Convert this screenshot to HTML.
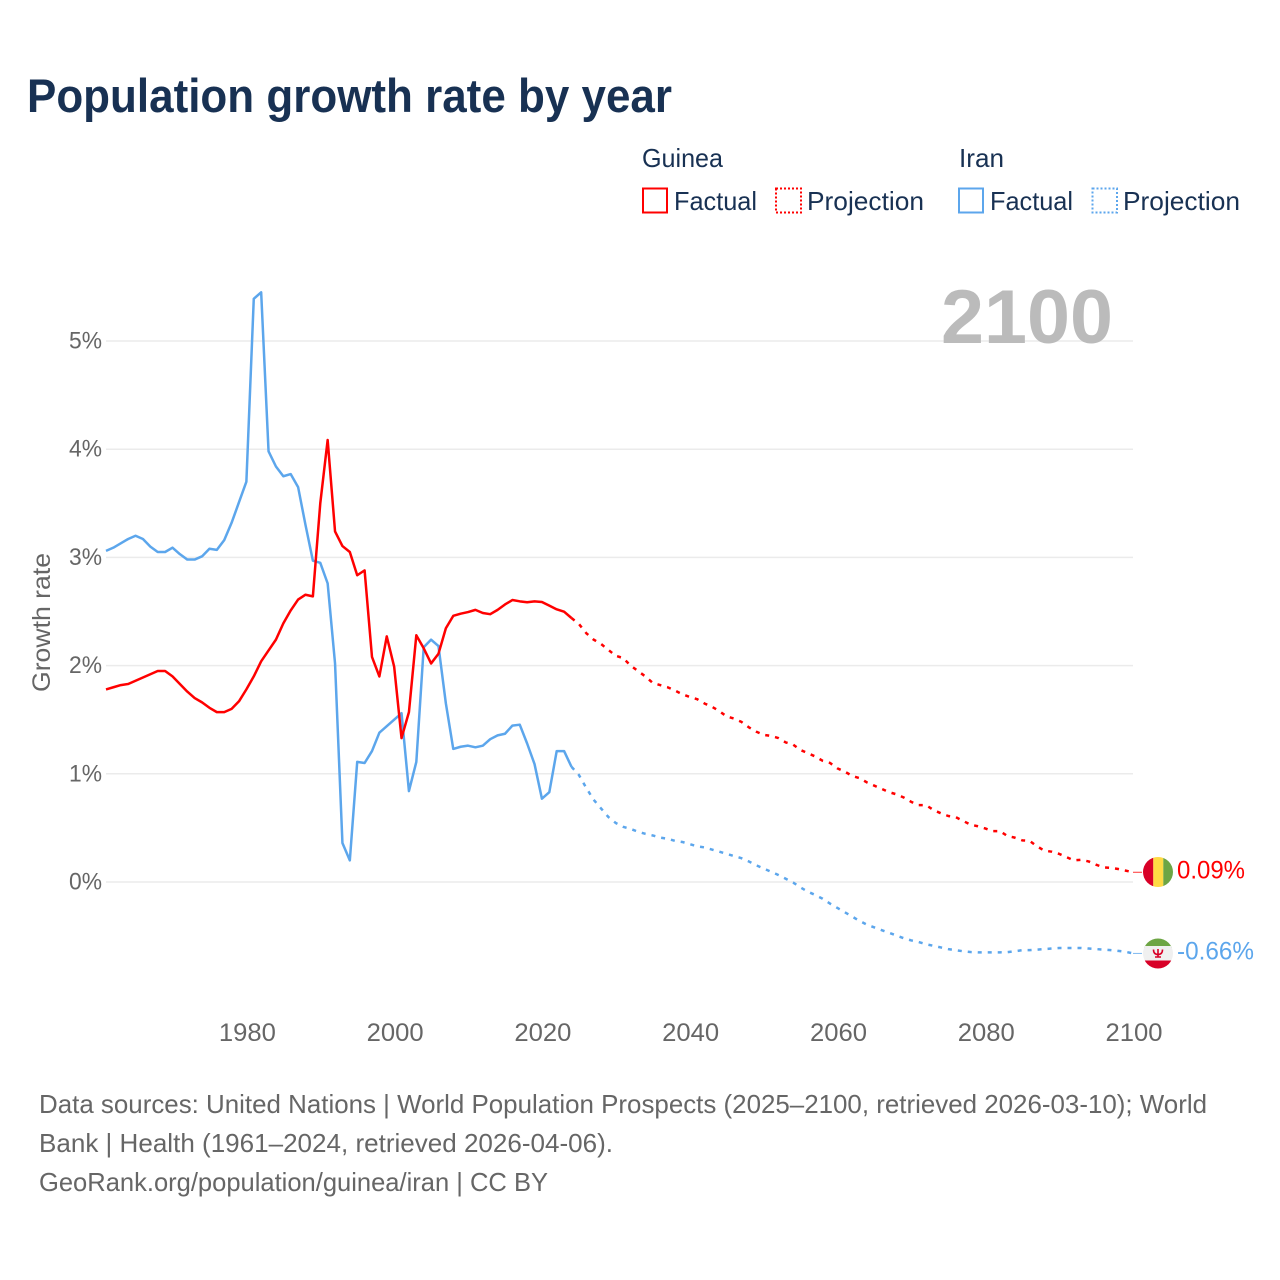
<!DOCTYPE html>
<html lang="en">
<head>
<meta charset="utf-8">
<title>Population growth rate by year</title>
<style>
html,body{margin:0;padding:0;background:#fff;width:1280px;height:1280px;overflow:hidden}
svg{display:block}
text{font-family:"Liberation Sans",sans-serif}
</style>
</head>
<body>
<svg id="chart" xmlns="http://www.w3.org/2000/svg" width="1280" height="1280" viewBox="0 0 1280 1280">
  <rect width="1280" height="1280" fill="#fff"/>
  <text x="27" y="112" font-size="47" font-weight="700" fill="#183153" textLength="645" lengthAdjust="spacingAndGlyphs">Population growth rate by year</text>

  <g font-size="26" fill="#183153">
    <text x="642" y="167" textLength="81" lengthAdjust="spacingAndGlyphs">Guinea</text>
    <text x="959" y="167" textLength="45" lengthAdjust="spacingAndGlyphs">Iran</text>
    <rect x="643" y="188.5" width="24" height="24" fill="none" stroke="#ff0000" stroke-width="2"/>
    <text x="674" y="210" textLength="83" lengthAdjust="spacingAndGlyphs">Factual</text>
    <rect x="776" y="188.5" width="25" height="24" fill="none" stroke="#ff0000" stroke-width="2" stroke-dasharray="2 2"/>
    <text x="807" y="210" textLength="117" lengthAdjust="spacingAndGlyphs">Projection</text>
    <rect x="959" y="188.5" width="24" height="24" fill="none" stroke="#5ca6ec" stroke-width="2"/>
    <text x="990" y="210" textLength="83" lengthAdjust="spacingAndGlyphs">Factual</text>
    <rect x="1092.500" y="188.5" width="24.500" height="24" fill="none" stroke="#5ca6ec" stroke-width="2" stroke-dasharray="2 2"/>
    <text x="1123" y="210" textLength="117" lengthAdjust="spacingAndGlyphs">Projection</text>
  </g>

  <g id="grid"></g>
  <g id="yticks"></g>
  <g id="xticks"></g>
  <text transform="translate(50,622.5) rotate(-90)" text-anchor="middle" font-size="25" fill="#666" textLength="139" lengthAdjust="spacingAndGlyphs">Growth rate</text>
  <text x="941" y="343" font-size="76" font-weight="700" fill="#bbbbbb" textLength="172" lengthAdjust="spacingAndGlyphs">2100</text>

  <g id="series"></g>

  <g>
    <clipPath id="clipGuinea"><circle cx="1158" cy="872" r="15"/></clipPath>
    <g clip-path="url(#clipGuinea)">
      <rect x="1143" y="857" width="10.300" height="30" fill="#d80027"/>
      <rect x="1153.300" y="857" width="10" height="30" fill="#ffda44"/>
      <rect x="1163.300" y="857" width="10" height="30" fill="#6da544"/>
    </g>
  </g>
  <g>
    <clipPath id="clipIran"><circle cx="1158" cy="953.500" r="15"/></clipPath>
    <g clip-path="url(#clipIran)">
      <rect x="1143" y="938" width="30" height="10" fill="#6da544"/>
      <rect x="1143" y="946" width="30" height="15" fill="#f0f0f0"/>
      <rect x="1143" y="960.500" width="30" height="10" fill="#d80027"/>
      <path d="M1153.500 949.500c0 3.500 1.500 5 4.500 5s4.500-1.500 4.500-5M1158 949v8M1155 957h6" fill="none" stroke="#d80027" stroke-width="1.600"/>
    </g>
  </g>

  <g font-size="26" fill="#666">
    <text x="39" y="1113" textLength="1168" lengthAdjust="spacingAndGlyphs">Data sources: United Nations | World Population Prospects (2025–2100, retrieved 2026-03-10); World</text>
    <text x="39" y="1152" textLength="574" lengthAdjust="spacingAndGlyphs">Bank | Health (1961–2024, retrieved 2026-04-06).</text>
    <text x="39" y="1191" textLength="509" lengthAdjust="spacingAndGlyphs">GeoRank.org/population/guinea/iran | CC BY</text>
  </g>
</svg>
<script>
var xTickYears = [1980, 2000, 2020, 2040, 2060, 2080, 2100];
var yTickValues = [0, 1, 2, 3, 4, 5];
var factualStartYear = 1961;
var projectionStartYear = 2024;
var guineaFactual = [1.78,1.80,1.82,1.83,1.86,1.89,1.92,1.95,1.95,1.90,
  1.83,1.76,1.70,1.66,1.61,1.57,1.57,1.60,1.67,1.78,
  1.90,2.04,2.14,2.24,2.39,2.51,2.61,2.655,2.64,3.50,
  4.085,3.24,3.105,3.05,2.835,2.88,2.08,1.90,2.27,1.99,
  1.33,1.57,2.28,2.16,2.02,2.11,2.345,2.46,2.48,2.495,
  2.515,2.486,2.475,2.515,2.565,2.606,2.594,2.585,2.594,2.588,
  2.554,2.52,2.498,2.44];
var guineaProjection = [2.44,2.385,2.30,2.24,2.20,2.145,2.09,2.07,2.00,1.95,1.90,
  1.84,1.82,1.80,1.77,1.735,1.71,1.69,1.65,1.62,1.58,
  1.53,1.51,1.48,1.43,1.39,1.36,1.35,1.33,1.29,1.27,
  1.22,1.19,1.16,1.12,1.10,1.05,1.02,0.98,0.96,0.92,
  0.89,0.86,0.83,0.81,0.78,0.74,0.71,0.71,0.665,0.635,
  0.61,0.60,0.565,0.53,0.515,0.495,0.47,0.47,0.425,0.41,
  0.385,0.38,0.33,0.29,0.28,0.26,0.23,0.20,0.205,0.19,
  0.16,0.135,0.13,0.12,0.105,0.09];
var iranFactual = [3.06,3.09,3.13,3.17,3.20,3.17,3.10,3.05,3.05,3.09,
  3.03,2.98,2.98,3.01,3.08,3.07,3.16,3.32,3.51,3.70,
  5.39,5.45,3.98,3.84,3.75,3.77,3.65,3.30,2.97,2.95,
  2.76,2.02,0.36,0.20,1.11,1.10,1.21,1.38,1.44,1.50,
  1.56,0.84,1.11,2.17,2.24,2.18,1.65,1.23,1.25,1.26,
  1.245,1.26,1.32,1.355,1.37,1.445,1.454,1.28,1.09,0.77,
  0.83,1.21,1.21,1.065];
var iranProjection = [1.065,0.99,0.87,0.76,0.68,0.60,0.545,0.51,0.49,0.465,0.445,
  0.43,0.41,0.40,0.38,0.37,0.35,0.33,0.32,0.30,0.28,
  0.26,0.24,0.22,0.19,0.155,0.125,0.095,0.065,0.03,-0.005,
  -0.05,-0.09,-0.12,-0.155,-0.20,-0.24,-0.28,-0.32,-0.36,-0.395,
  -0.42,-0.445,-0.47,-0.495,-0.52,-0.54,-0.555,-0.575,-0.59,-0.605,
  -0.62,-0.63,-0.64,-0.647,-0.65,-0.65,-0.65,-0.65,-0.648,-0.64,
  -0.63,-0.63,-0.625,-0.62,-0.615,-0.61,-0.61,-0.61,-0.61,-0.615,
  -0.62,-0.625,-0.63,-0.637,-0.645,-0.66];
var endLabels = ["0.09%", "-0.66%"];

var SVGNS = "http://www.w3.org/2000/svg";
var RED = "#ff0000", BLUE = "#5ca6ec";
function xScale(year){ return 106 + (year - 1961) * (1133 - 106) / (2100 - 1961); }
function yScale(v){ return 882 - v * 108.2; }
function make(tag, parent){
  var el = document.createElementNS(SVGNS, tag);
  parent.appendChild(el);
  return el;
}
function pathFrom(values, startYear){
  return values.map(function(v, i){
    return (i ? "L" : "M") + xScale(startYear + i).toFixed(2) + " " + yScale(v).toFixed(2);
  }).join("");
}
var grid = document.getElementById("grid");
var yticks = document.getElementById("yticks");
var xticks = document.getElementById("xticks");
var series = document.getElementById("series");

yTickValues.forEach(function(v){
  var line = make("line", grid);
  
  
  line.setAttribute("x1", 106); line.setAttribute("x2", 1133);
  line.setAttribute("y1", yScale(v)); line.setAttribute("y2", yScale(v));
  line.setAttribute("stroke", "#ebebeb"); line.setAttribute("stroke-width", "1.5");
  var t = make("text", yticks);
  
  
  t.setAttribute("x", 69); t.setAttribute("y", yScale(v) + 7.5);
  t.setAttribute("font-size", "24"); t.setAttribute("fill", "#666");
  t.setAttribute("textLength", "33"); t.setAttribute("lengthAdjust", "spacingAndGlyphs");
  t.textContent = v + "%";
});
xTickYears.forEach(function(y){
  var t = make("text", xticks);
  
  
  t.setAttribute("x", xScale(y) - 27.5); t.setAttribute("y", 1041);
  t.setAttribute("font-size", "25"); t.setAttribute("fill", "#666");
  t.setAttribute("textLength", "57"); t.setAttribute("lengthAdjust", "spacingAndGlyphs");
  t.textContent = y;
});
function addLine(name, values, start, color, dashed){
  var p = make("path", series);
  
  
  p.setAttribute("d", pathFrom(values, start));
  p.setAttribute("fill", "none");
  p.setAttribute("stroke", color);
  p.setAttribute("stroke-width", "2.5");
  p.setAttribute("stroke-linejoin", "round");
  if (dashed) p.setAttribute("stroke-dasharray", "4 6");
}
addLine('iran-factual-line', iranFactual, factualStartYear, BLUE, false);
addLine('iran-projection-line', iranProjection, projectionStartYear, BLUE, true);
addLine('guinea-factual-line', guineaFactual, factualStartYear, RED, false);
addLine('guinea-projection-line', guineaProjection, projectionStartYear, RED, true);

[[guineaProjection, RED, 0], [iranProjection, BLUE, 1]].forEach(function(s){
  var last = s[0][s[0].length - 1];
  var c = make("line", series);
  
  
  c.setAttribute("x1", xScale(2100)); c.setAttribute("x2", 1142);
  c.setAttribute("y1", yScale(last)); c.setAttribute("y2", yScale(last));
  c.setAttribute("stroke", s[1]); c.setAttribute("stroke-width", "1"); c.setAttribute("opacity", "0.8");
  var t = make("text", series);
  
  
  t.setAttribute("x", 1177); t.setAttribute("y", yScale(last) + 6);
  t.setAttribute("font-size", "25"); t.setAttribute("fill", s[1]);
  t.setAttribute("textLength", s[2] ? "77" : "68"); t.setAttribute("lengthAdjust", "spacingAndGlyphs");
  t.textContent = endLabels[s[2]];
});
</script>
</body>
</html>
